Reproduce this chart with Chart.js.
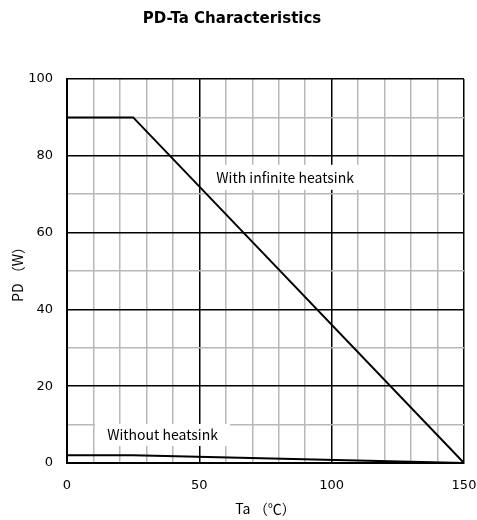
<!DOCTYPE html>
<html>
<head>
<meta charset="utf-8">
<script src="https://cdn.jsdelivr.net/npm/chart.js@4"></script>
<style>
  body { margin: 0; background: #fff; }
  #wrap { width: 477px; height: 520px; }
</style>
</head>
<body>
<div id="wrap"><canvas id="chart"></canvas></div>
<script>
// Ta (°C) points where the derating curves bend
const taPoints = [0, 25, 150];
// PD (W) for each curve
const withSink = [90, 90, 0];
const withoutSink = [2, 2, 0];
const xTickLabels = [0, 50, 100, 150];
const yTickLabels = [0, 20, 40, 60, 80, 100];

const FONT = '"Noto Sans CJK JP", "DejaVu Sans", sans-serif';
const NUMFONT = '"DejaVu Sans", sans-serif';

// white label boxes sitting on top of the grid
const curveLabels = {
  id: 'curveLabels',
  beforeDatasetsDraw(chart) {
    const c = chart.ctx;
    const xs = chart.scales.x, ys = chart.scales.y;
    const items = [
      { text: 'With infinite heatsink', x: 82.4, y: 74.4, w: 160, h: 25 },
      { text: 'Without heatsink', x: 36.1, y: 7.3, w: 135, h: 22 }
    ];
    c.save();
    c.font = '14px ' + FONT;
    c.textAlign = 'center';
    c.textBaseline = 'middle';
    items.forEach(it => {
      const px = xs.getPixelForValue(it.x);
      const py = ys.getPixelForValue(it.y);
      c.fillStyle = '#fff';
      c.fillRect(px - it.w / 2, py - it.h / 2, it.w, it.h);
      c.fillStyle = '#000';
      c.fillText(it.text, px, py);
    });
    c.restore();
  }
};

new Chart(document.getElementById('chart'), {
  type: 'line',
  data: {
    datasets: [
      {
        data: taPoints.map((t, i) => ({ x: t, y: withSink[i] })),
        borderColor: '#000', borderWidth: 2, pointRadius: 0, tension: 0
      },
      {
        data: taPoints.map((t, i) => ({ x: t, y: withoutSink[i] })),
        borderColor: '#000', borderWidth: 2, pointRadius: 0, tension: 0
      }
    ]
  },
  options: {
    responsive: true,
    maintainAspectRatio: false,
    animation: false,
    layout: { padding: { left: 0, right: 13, top: 0, bottom: 0 } },
    plugins: {
      legend: { display: false },
      tooltip: { enabled: false },
      title: {
        display: true,
        text: 'PD-Ta Characteristics',
        color: '#000',
        font: { family: NUMFONT, size: 15, weight: 'bold' },
        padding: { top: 10, bottom: 51 }
      }
    },
    scales: {
      x: {
        type: 'linear', min: 0, max: 150,
        ticks: {
          stepSize: 10, color: '#000', padding: 15, maxRotation: 0, autoSkip: false,
          font: { family: NUMFONT, size: 13 },
          callback: v => xTickLabels.includes(v) ? String(v) : ''
        },
        grid: {
          drawTicks: false,
          color: ctx => (ctx.tick && ctx.tick.value % 50 === 0) ? '#000' : '#b8b8b8',
          lineWidth: 1.5
        },
        border: { color: '#000', width: 2 },
        title: {
          display: true, text: 'Ta （℃）', color: '#000',
          font: { family: FONT, size: 14 },
          padding: { top: 0, bottom: 3 }
        },
        afterFit: s => { s.height = 57; s.paddingLeft = 0; s.paddingRight = 0; }
      },
      y: {
        min: 0, max: 100,
        ticks: {
          stepSize: 10, color: '#000', padding: 14, autoSkip: false,
          font: { family: NUMFONT, size: 13 },
          callback: v => yTickLabels.includes(v) ? String(v) : ''
        },
        grid: {
          drawTicks: false,
          color: ctx => (ctx.tick && ctx.tick.value % 20 === 0) ? '#000' : '#b8b8b8',
          lineWidth: 1.5
        },
        border: { color: '#000', width: 2 },
        title: {
          display: true, text: 'PD （W）', color: '#000',
          font: { family: FONT, size: 14 },
          padding: { top: 9, bottom: 0 }
        },
        afterFit: s => { s.width = 67; }
      }
    }
  },
  plugins: [curveLabels]
});
</script>
</body>
</html>
